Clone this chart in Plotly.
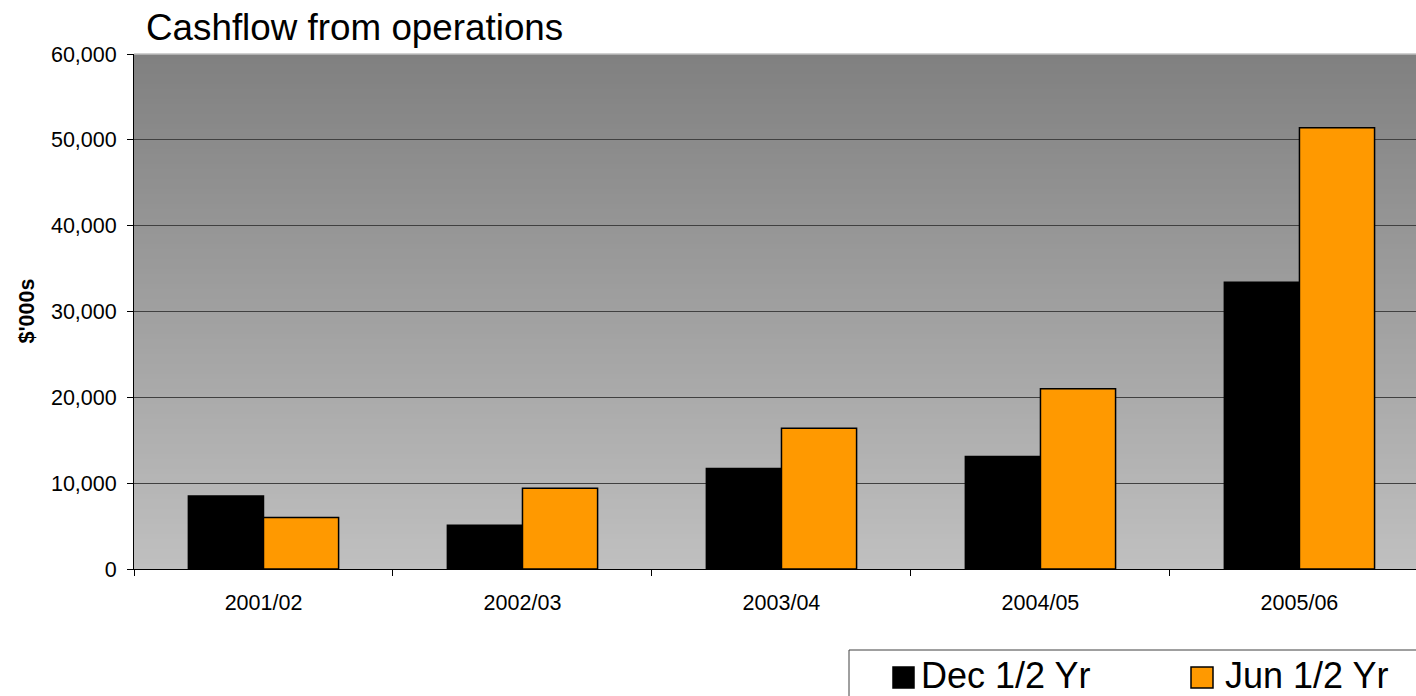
import plotly.graph_objects as go

# Financial years and half-year operating cashflow ($'000s)
years = ["2001/02", "2002/03", "2003/04", "2004/05", "2005/06"]
dec_half = [8500, 5100, 11700, 13100, 33400]
jun_half = [6000, 9400, 16400, 21000, 51400]
series_names = ["Dec 1/2 Yr", "Jun 1/2 Yr"]
series_colors = ["#000000", "#FF9900"]

FONT = "Liberation Sans, Arial, sans-serif"
W, H = 1416, 696
ML, MR, MT, MB = 134, 0, 54, 127
PW, PH = W - ML - MR, H - MT - MB


def px_x(px):
    return (px - ML) / PW


def px_y(py):
    return (H - MB - py) / PH


fig = go.Figure()
for name, vals, col in zip(series_names, [dec_half, jun_half], series_colors):
    fig.add_trace(go.Bar(
        x=years, y=vals, name=name,
        marker=dict(color=col, line=dict(color="#000000", width=1.5)),
        hoverinfo="x+y+name",
    ))

# vertical grey gradient behind the plot area
shapes = []
n_strips = 103
top_rgb, bot_rgb = 128, 192
for i in range(n_strips):
    f = (i + 0.5) / n_strips
    v = round(top_rgb + (bot_rgb - top_rgb) * f)
    shapes.append(dict(
        type="rect", xref="x domain", yref="y domain",
        x0=0, x1=1, y0=1 - i / n_strips, y1=1 - (i + 1) / n_strips,
        fillcolor=f"rgb({v},{v},{v})", line=dict(width=0), layer="below",
    ))

# light edge along the top of the plot area
shapes.append(dict(type="line", xref="paper", yref="paper", x0=0, x1=1,
                   y0=1, y1=1, line=dict(color="#c0c0c0", width=1.5)))

# legend frame and swatches
shapes.append(dict(type="rect", xref="paper", yref="paper",
                   x0=px_x(849), x1=px_x(1460), y0=px_y(650), y1=px_y(740),
                   fillcolor="white", line=dict(color="#404040", width=1)))
swatches = [(893, 914), (1191, 1213)]
for (sx0, sx1), col in zip(swatches, series_colors):
    shapes.append(dict(type="rect", xref="paper", yref="paper",
                       x0=px_x(sx0), x1=px_x(sx1), y0=px_y(667), y1=px_y(688),
                       fillcolor=col, line=dict(color="#000000", width=1.5)))

annotations = [
    dict(text="Cashflow from operations", xref="paper", yref="paper",
         x=px_x(144), y=px_y(28), xanchor="left", yanchor="middle",
         showarrow=False, font=dict(family=FONT, size=36.8, color="#000000")),
    dict(text="<b>$'000s</b>", xref="paper", yref="paper",
         x=px_x(26), y=0.5, xanchor="center", yanchor="middle", textangle=-90,
         showarrow=False, font=dict(family=FONT, size=21.5, color="#000000")),
]
for name, tx in zip(series_names, [919, 1223]):
    annotations.append(dict(text=name, xref="paper", yref="paper",
                            x=px_x(tx), y=px_y(675), xanchor="left",
                            yanchor="middle", showarrow=False,
                            font=dict(family=FONT, size=36, color="#000000")))

fig.update_layout(
    width=W, height=H,
    margin=dict(l=ML, r=MR, t=MT, b=MB, pad=0),
    paper_bgcolor="white", plot_bgcolor="#a0a0a0",
    barmode="group", bargap=0.42, bargroupgap=0,
    showlegend=False,
    font=dict(family=FONT, color="#000000"),
    shapes=shapes, annotations=annotations,
)
fig.update_xaxes(
    type="category", range=[-0.5, 4.45],
    showline=True, linecolor="#000000", linewidth=1,
    ticks="outside", ticklen=6, tickcolor="#000000", tickwidth=1,
    tickson="boundaries", ticklabelstandoff=14,
    showgrid=False, zeroline=False,
    tickfont=dict(family=FONT, size=21.5, color="#000000"),
)
fig.update_yaxes(
    range=[0, 60000], dtick=10000, tickformat=",",
    showline=True, linecolor="#000000", linewidth=1,
    ticks="outside", ticklen=6, tickcolor="#000000", tickwidth=1,
    ticklabelstandoff=6,
    showgrid=True, gridcolor="#404040", gridwidth=1, zeroline=False,
    tickfont=dict(family=FONT, size=21.5, color="#000000"),
)

fig.write_html("out.html")
